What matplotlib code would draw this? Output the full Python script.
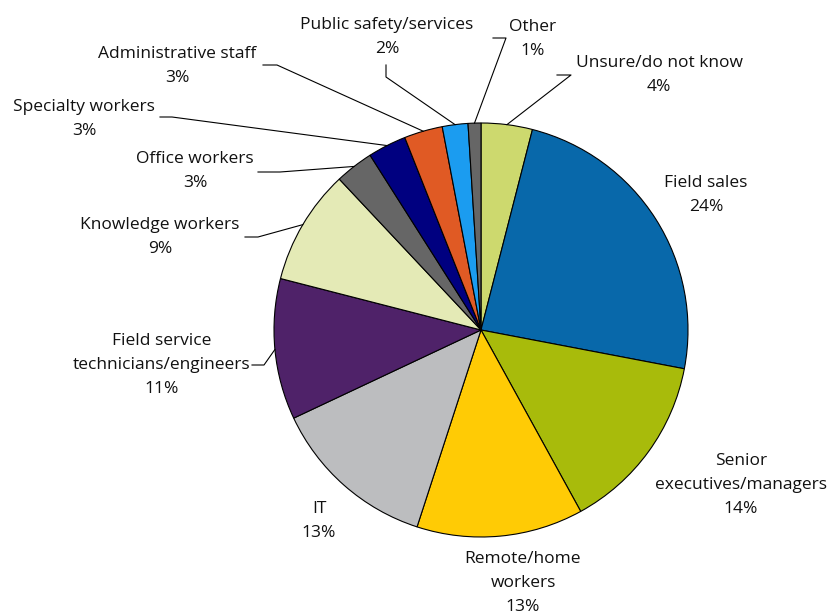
import numpy as np
import matplotlib
matplotlib.use("Agg")
import matplotlib.pyplot as plt

plt.rcParams['font.family'] = ['Open Sans', 'DejaVu Sans']

# share of respondents per worker group, clockwise from 12 o'clock
labels = ["Unsure/do not know", "Field sales", "Senior\nexecutives/managers",
          "Remote/home\nworkers", "IT", "Field service\ntechnicians/engineers",
          "Knowledge workers", "Office workers", "Specialty workers",
          "Administrative staff", "Public safety/services", "Other"]
values = [4, 24, 14, 13, 13, 11, 9, 3, 3, 3, 2, 1]
colors = ["#cdd96e", "#0868aa", "#a8bb0b", "#ffcb05", "#bcbdbf", "#4f2269",
          "#e4eab6", "#666666", "#000080", "#e05a24", "#1b9cf0", "#666666"]

W, H = 827, 615
CX, CY, R = 481, 330, 207


def px(x, y):
    # pixel position -> data units (pie radius = 1)
    return (x - CX) / R, (CY - y) / R


# label block centre (pixels) and optional leader elbow (pixels)
label_pos = [(659, 75), (706, 195), (741, 485), (523, 583), (319, 521),
             (162, 365), (160, 237), (195, 171), (84, 119), (177, 66),
             (387, 37), (533, 39)]
elbows = [[(571, 75), (557, 75)], None, None, None, None,
          [(264, 365), (252, 365)], [(258, 237), (245, 237)],
          [(280, 172), (258, 172)], [(172, 117), (160, 117)],
          [(277, 65), (263, 65)], [(386, 77), (386, 65)],
          [(506, 38), (493, 38)]]

fig = plt.figure(figsize=(W / 100, H / 100), dpi=100)
ax = fig.add_axes([0, 0, 1, 1])

ax.pie(values, colors=colors, startangle=90, counterclock=False, radius=1,
       wedgeprops=dict(edgecolor="black", linewidth=0.8))

total = sum(values)
cum = 0
for i, v in enumerate(values):
    mid = np.deg2rad(90 - 360 * (cum + v / 2) / total)
    cum += v
    pct = f"{v}%"
    tx, ty = px(*label_pos[i])
    ax.text(tx, ty, labels[i] + "\n" + pct, ha="center", va="center",
            fontsize=12.5, color="#111111", linespacing=1.68)
    if elbows[i] is not None:
        ex = [np.cos(mid)] + [px(*p)[0] for p in elbows[i]]
        ey = [np.sin(mid)] + [px(*p)[1] for p in elbows[i]]
        ax.plot(ex, ey, color="black", linewidth=0.8)

ax.set_xlim(-CX / R, (W - CX) / R)
ax.set_ylim(-(H - CY) / R, CY / R)
ax.set_aspect("equal")
ax.axis("off")

fig.savefig("out.png", dpi=100)
